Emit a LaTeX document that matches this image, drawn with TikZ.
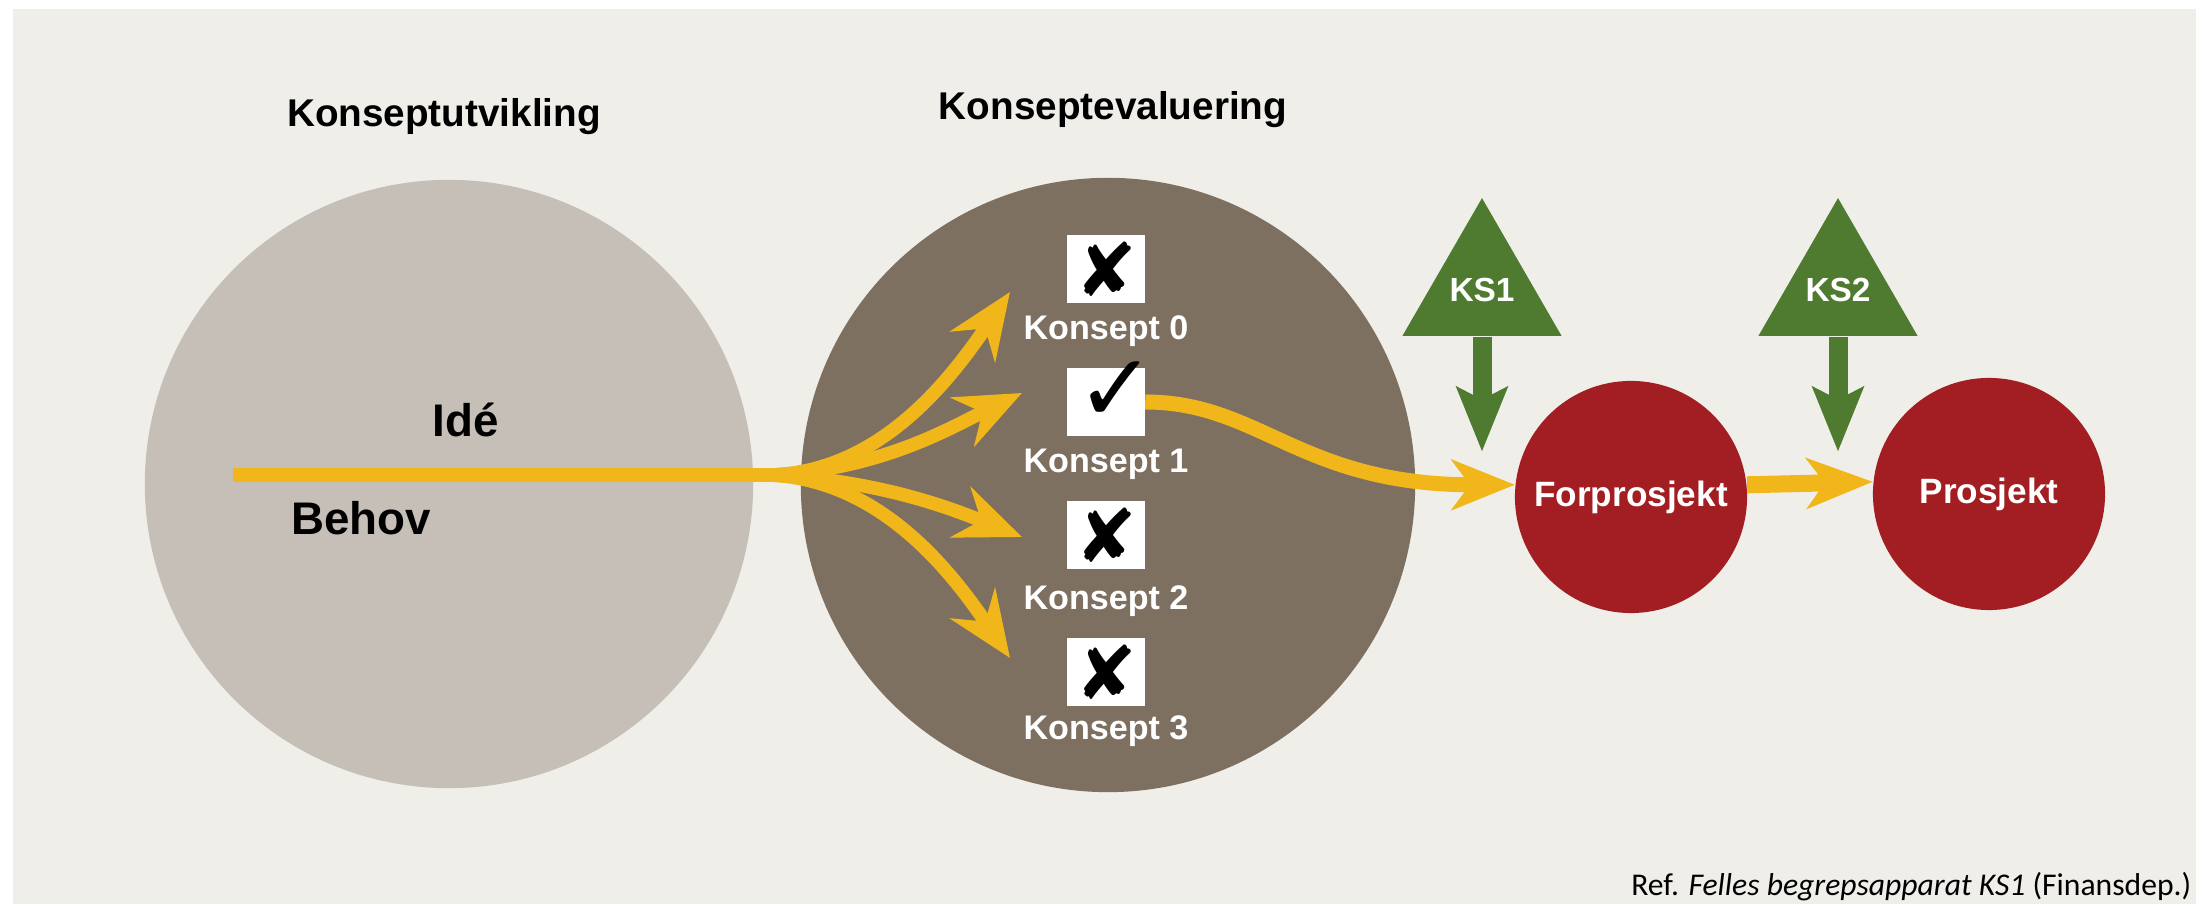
\documentclass[tikz,border=0pt]{standalone}
\usepackage{fontspec}
\setmainfont{Liberation Sans}
\newfontfamily\symbfont{DejaVu Sans}
\newfontfamily\reffont{Carlito}
\usetikzlibrary{shapes.geometric, arrows.meta}
\usetikzlibrary{positioning}
\usetikzlibrary{calc}
\definecolor{panelbg}{HTML}{EFEEE9}
\definecolor{phaselight}{HTML}{C5BFB8}
\definecolor{phasedark}{HTML}{7E7060}
\definecolor{flowyellow}{HTML}{F1B61A}
\definecolor{projred}{HTML}{A31E22}
\definecolor{gategreen}{HTML}{4F7B30}
\tikzstyle{phase} = [circle, inner sep=0pt, minimum size=6.08cm]
\tikzstyle{phasetitle} = [anchor=base, inner sep=0pt, font=\bfseries\fontsize{11}{13}\selectfont]
\tikzstyle{needtext} = [anchor=base, inner sep=0pt, font=\bfseries\fontsize{13}{15}\selectfont]
\tikzstyle{project} = [circle, fill=projred, inner sep=0pt, minimum size=2.32cm, text=white, font=\bfseries\fontsize{10}{12}\selectfont]
\tikzstyle{gate} = [regular polygon, regular polygon sides=3, fill=gategreen, inner sep=0pt, minimum size=1.71cm, text=white, font=\bfseries\fontsize{9.5}{11}\selectfont]
\tikzstyle{flowline} = [draw=flowyellow, line width=1.35mm]
\tikzstyle{flow} = [flowline, -{Stealth[length=6.6mm, width=5.4mm, inset=2.2mm]}]
\tikzstyle{gatearrow} = [draw=gategreen, line width=1.9mm, -{Stealth[length=6.4mm, width=5mm, inset=1.2mm]}]

\begin{document}
\begin{tikzpicture}[  x = 0.01cm,
                      y = -0.01cm
                    ]

\tikzset{choice/.style = {rectangle, fill = white, inner sep = 0pt, minimum width = 0.77cm, minimum height = 0.68cm, font = \symbfont\fontsize{21}{21}\selectfont},
         choicelabel/.style = {text = white, inner sep = 0pt, font = \bfseries\fontsize{9.7}{11}\selectfont}}

\useasboundingbox (0,0) rectangle (2196,904);
\fill[white] (0,0) rectangle (2196,904);
\fill[panelbg] (13,9) rectangle (2196,904);

\node[phase, fill = phaselight] (utv) at (449,484) {};
\node[phase, fill = phasedark, minimum size = 6.14cm] (eval) at (1108,485) {};
\node[project] (forp) at (1631,497) {Forprosjekt};
\node[project] (prosj) at (1989,494) {Prosjekt};
\node[gate] (ks1) at (1482,290) {KS1};
\node[gate] (ks2) at (1838,290) {KS2};

\node[phasetitle] (utvtitle) at (444,127) {Konseptutvikling};
\node[phasetitle] (evaltitle) at (1113,120) {Konseptevaluering};
\node[needtext] (ide) at (466,437) {Idé};
\node[needtext] (behov) at (361,535) {Behov};

\coordinate (start) at (233,475);
\coordinate (fan) at (770,475);
\coordinate (tip0) at (1010,292);
\coordinate (tip1) at (1022,393);
\coordinate (tip2) at (1022,537);
\coordinate (tip3) at (1010,658);

\draw[flowline] (start) -- (fan);
\draw[flow] (fan) .. controls (880,472) and (950,380) .. (tip0);
\draw[flow] (fan) .. controls (880,470) and (950,428) .. (tip1);
\draw[flow] (fan) .. controls (880,480) and (955,510) .. (tip2);
\draw[flow] (fan) .. controls (880,480) and (950,570) .. (tip3);

\node[choice] (box0) at (1106,269) {✘};
\node[choice] (box1) at (1106,402) {\fontsize{27}{27}\selectfont\smash{\makebox[0pt]{\hspace{0.2cm}\raisebox{-0.2cm}{✓}}}};
\node[choice] (box2) at (1106,535) {✘};
\node[choice] (box3) at (1106,672) {✘};

\node[choicelabel, below = 0.11cm of box0] (lab0) {Konsept 0};
\node[choicelabel, below = 0.12cm of box1] (lab1) {Konsept 1};
\node[choicelabel, below = 0.15cm of box2] (lab2) {Konsept 2};
\node[choicelabel, below = 0.08cm of box3] (lab3) {Konsept 3};

\draw[flow, line width = 1.5mm, -{Stealth[length=6.3mm, width=5mm, inset=1.8mm]}] (box1.east) .. controls (1260,402) and (1300,485) .. (forp.174);
\draw[flow, line width = 1.7mm, -{Stealth[length=6.6mm, width=5mm, inset=1.8mm]}] (forp.6) -- (prosj.174);

\draw[gatearrow] (ks1.south) -- ($(ks1.south)+(0,115)$);
\draw[gatearrow] (ks2.south) -- ($(ks2.south)+(0,115)$);

\node[anchor = base east, inner sep = 0pt, font = \reffont\fontsize{9}{11}\selectfont] (ref) at (2192,896) {Ref. \textit{Felles begrepsapparat KS1} (Finansdep.)};

\end{tikzpicture}
\end{document}
